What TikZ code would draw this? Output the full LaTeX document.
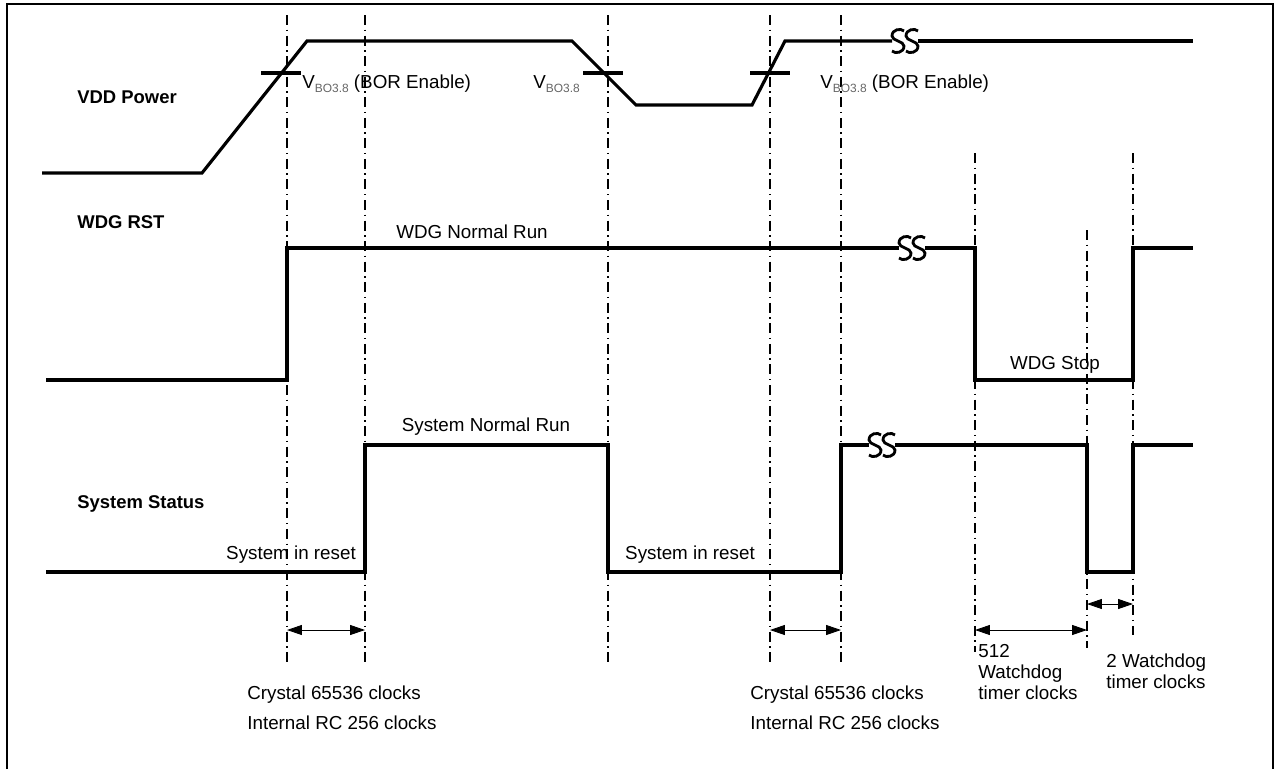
\documentclass[tikz,border=0pt]{standalone}
\usepackage{fontspec}
\setmainfont{Liberation Sans}
\usetikzlibrary{positioning, arrows.meta}
\newcommand{\vbo}{V\raisebox{-0.35ex}{\fontsize{6.8}{7}\selectfont\color{black!60}BO3.8}}
\tikzset{
x=0.02cm, y=-0.02cm, % one unit is one pixel of the sheet, y grows downwards
sig/.style={line width=1.8pt, line join=miter}, % the signal traces
guide/.style={line width=1pt, dash pattern=on 5.7pt off 2.6pt on 0.8pt off 2.6pt}, % dash-dot time marks
span/.style={{Triangle[length=8.5pt,width=5.7pt]}-{Triangle[length=8.5pt,width=5.7pt]}, line width=0.5pt},
lbl/.style={font=\fontsize{10.7}{12}\selectfont, inner sep=0pt},
signame/.style={lbl, font=\fontsize{10.5}{12}\selectfont\bfseries, anchor=west},
squig/.pic={ % the "time cut" mark on a trace
  \foreach \c in {-7,7}
    \draw[line width=1.6pt] (\c+6,-10) .. controls (\c+3,-13) and (\c-6,-12) .. (\c-6,-5)
      .. controls (\c-6,0) and (\c+6,0) .. (\c+6,5)
      .. controls (\c+6,12) and (\c-3,13) .. (\c-6,10);
},
}

\begin{document}
\begin{tikzpicture}
    \useasboundingbox (0,0) rectangle (1276,769);
    \draw[line width=1.2pt] (7,769) -- (7,4) -- (1273,4) -- (1273,769);

    % time marks
    \foreach \x/\a/\b in {287/15/665, 365/15/665, 608/15/665, 770/15/662, 841/15/665,
                          975/153/652, 1087/230/648, 1133/153/635}
        \draw[guide] (\x,\a) -- (\x,\b);

    % signal names
    \node[signame] (vdd) at (77,97) {VDD Power};
    \node[signame] (wdg) at (77,222) {WDG RST};
    \node[signame] (sys) at (77,504) {System Status};

    % VDD Power
    \draw[sig] (42,173) -- (202,173) -- (307,41) -- (572,41) -- (636,105) -- (752,105) -- (785,41) -- (892,41);
    \draw[sig] (918,41) -- (1193,41);
    \pic at (905,41) {squig};
    \draw[sig] (261,73) -- (301,73);
    \draw[sig] (583,73) -- (623,73);
    \draw[sig] (750,73) -- (790,73);
    \node[lbl, anchor=west] (bor1) at (302,84) {\vbo{} (BOR Enable)};
    \node[lbl, anchor=west] (bor2) at (533,84) {\vbo};
    \node[lbl, anchor=west] (bor3) at (820,84) {\vbo{} (BOR Enable)};

    % WDG RST
    \draw[sig] (46,380) -- (287,380) -- (287,248) -- (899,248);
    \draw[sig] (925,248) -- (975,248) -- (975,380) -- (1133,380) -- (1133,248) -- (1193,248);
    \pic at (912,248) {squig};
    \node[lbl] (wrun) at (472,232) {WDG Normal Run};
    \node[lbl] (wstop) at (1055,365) {WDG Stop};

    % System Status
    \draw[sig] (46,572) -- (365,572) -- (365,445) -- (608,445) -- (608,572) -- (841,572) -- (841,445) -- (869,445);
    \draw[sig] (895,445) -- (1087,445) -- (1087,572) -- (1133,572) -- (1133,445) -- (1193,445);
    \pic at (882,445) {squig};
    \node[lbl] (srun) at (486,427) {System Normal Run};
    \node[lbl] (rst1) at (291,555) {System in reset};
    \node[lbl] (rst2) at (690,555) {System in reset};

    % intervals
    \coordinate (a1) at (287,630); \coordinate (a2) at (365,630);
    \coordinate (b1) at (770,630); \coordinate (b2) at (841,630);
    \coordinate (c1) at (975,630); \coordinate (c2) at (1087,630);
    \coordinate (d1) at (1087,604); \coordinate (d2) at (1133,604);
    \draw[span] (a1) -- (a2);
    \draw[span] (b1) -- (b2);
    \draw[span] (c1) -- (c2);
    \draw[span] (d1) -- (d2);

    \node[lbl, anchor=base west] (xtal1) at (247,699) {Crystal 65536 clocks};
    \node[lbl, below=17.6pt of xtal1.base west, anchor=base west] (rc1) {Internal RC 256 clocks};
    \node[lbl, anchor=base west] (xtal2) at (750,699) {Crystal 65536 clocks};
    \node[lbl, below=17.6pt of xtal2.base west, anchor=base west] (rc2) {Internal RC 256 clocks};
    \node[lbl, anchor=base west] (n512) at (978,657) {512};
    \node[lbl, below=12.2pt of n512.base west, anchor=base west] (wd1) {Watchdog};
    \node[lbl, below=12.2pt of wd1.base west, anchor=base west] (tc1) {timer clocks};
    \node[lbl, anchor=base west] (n2) at (1106,667) {2 Watchdog};
    \node[lbl, below=12.2pt of n2.base west, anchor=base west] (tc2) {timer clocks};
\end{tikzpicture}
\end{document}
